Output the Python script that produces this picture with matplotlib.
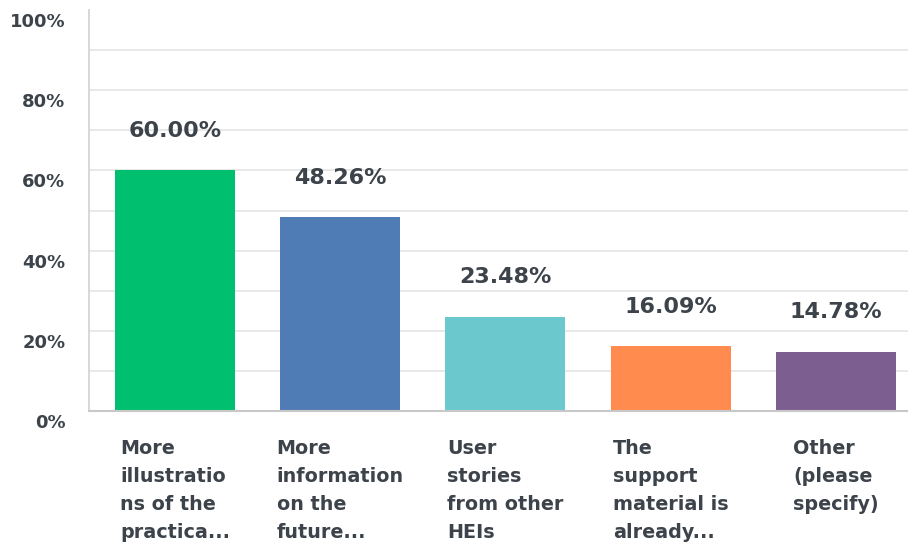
import matplotlib.pyplot as plt
import matplotlib.transforms as mtransforms

plt.rcParams['font.family'] = ['DejaVu Sans']

# Data
categories = [
    'More\nillustratio\nns of the\npractica...',
    'More\ninformation\non the\nfuture...',
    'User\nstories\nfrom other\nHEIs',
    'The\nsupport\nmaterial is\nalready...',
    'Other\n(please\nspecify)',
]
values = [60.00, 48.26, 23.48, 16.09, 14.78]
colors = ['#00BF6F', '#507CB6', '#6BC8CD', '#FF8B4F', '#7D5E90']
yticks = [0, 20, 40, 60, 80, 100]

text_color = '#3d434a'

fig = plt.figure(figsize=(9.08, 5.46), dpi=100)
ax = fig.add_axes([89 / 908, 135 / 546, 1 - 89 / 908, 401 / 546])

x = list(range(len(values)))
ax.bar(x, values, width=0.726, color=colors, zorder=3)

ax.set_xlim(-0.52, 4.436)
ax.set_ylim(0, 100)

# light gridlines every 10%
for g in range(10, 100, 10):
    ax.axhline(g, color='#e6e6e6', lw=1.3, zorder=1)

ax.spines['top'].set_visible(False)
ax.spines['right'].set_visible(False)
ax.spines['left'].set_color('#d4d4d4')
ax.spines['left'].set_linewidth(1.3)
ax.spines['bottom'].set_color('#c8c8c8')
ax.spines['bottom'].set_linewidth(1.5)
ax.spines['bottom'].set_zorder(4)

ax.set_yticks(yticks)
ax.set_yticklabels([f'{t}%' for t in yticks], fontsize=13, fontweight='bold',
                   color=text_color)
ax.tick_params(axis='y', length=0, pad=17)
offset = mtransforms.ScaledTranslation(0, -10 / 100, fig.dpi_scale_trans)
for lbl in ax.get_yticklabels():
    lbl.set_transform(lbl.get_transform() + offset)

ax.set_xticks(x)
ax.set_xticklabels(categories, fontsize=13.8, fontweight='bold', color=text_color,
                   linespacing=1.6, multialignment='left', va='top')
ax.tick_params(axis='x', length=0, pad=20.5)

for xi, v in zip(x, values):
    ax.annotate(f'{v:.2f}%', (xi, v), xytext=(0, 28.5), textcoords='offset points',
                ha='center', va='center', fontsize=16, fontweight='bold',
                color=text_color)

fig.savefig('out.png', dpi=100)
